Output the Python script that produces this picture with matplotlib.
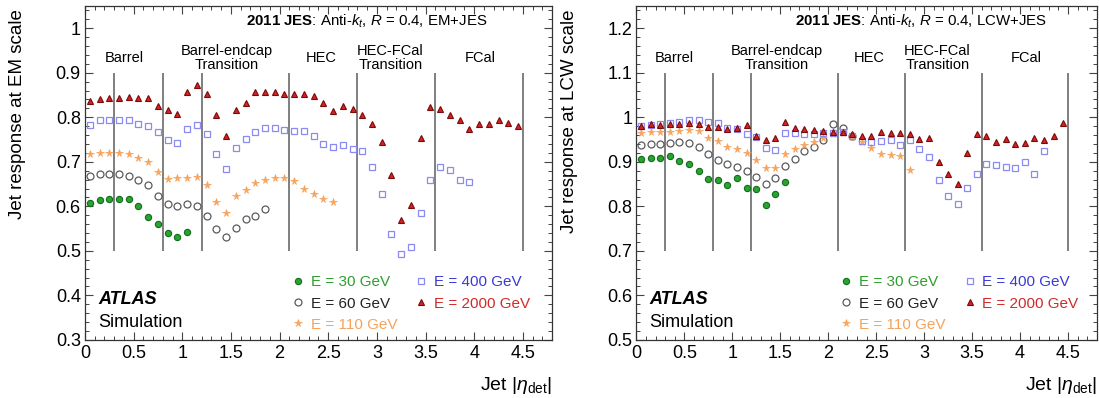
import matplotlib
matplotlib.use("Agg")
import matplotlib.pyplot as plt
from matplotlib.ticker import MultipleLocator, FormatStrFormatter

plt.rcParams['font.family'] = ['Liberation Sans', 'DejaVu Sans']
plt.rcParams['mathtext.fontset'] = 'custom'
plt.rcParams['mathtext.rm'] = 'Liberation Sans'
plt.rcParams['mathtext.it'] = 'Liberation Sans:italic'
plt.rcParams['mathtext.bf'] = 'Liberation Sans:bold'

# |eta_det| bin centres (0.1 wide bins)
eta = [0.05, 0.15, 0.25, 0.35, 0.45, 0.55, 0.65, 0.75, 0.85, 0.95,
       1.05, 1.15, 1.25, 1.35, 1.45, 1.55, 1.65, 1.75, 1.85, 1.95,
       2.05, 2.15, 2.25, 2.35, 2.45, 2.55, 2.65, 2.75, 2.85, 2.95,
       3.05, 3.15, 3.25, 3.35, 3.45, 3.55, 3.65, 3.75, 3.85, 3.95,
       4.05, 4.15, 4.25, 4.35, 4.45]

# EM scale response
em_30 = [0.608, 0.614, 0.617, 0.617, 0.617, 0.600, 0.576, 0.561, 0.540, 0.531,
         0.542]
em_60 = [0.668, 0.672, 0.672, 0.672, 0.669, 0.660, 0.647, 0.624, 0.606, 0.600,
         0.606, 0.600, 0.578, 0.548, 0.530, 0.552, 0.572, 0.578, 0.594]
em_110 = [0.717, 0.720, 0.719, 0.719, 0.717, 0.709, 0.699, 0.677, 0.662, 0.664,
          0.664, 0.666, 0.647, 0.609, 0.585, 0.623, 0.636, 0.653, 0.659, 0.664,
          0.664, 0.657, 0.639, 0.627, 0.617, 0.609]
em_400 = [0.783, 0.793, 0.795, 0.795, 0.793, 0.786, 0.780, 0.767, 0.750, 0.743,
          0.773, 0.782, 0.762, 0.717, 0.684, 0.730, 0.752, 0.767, 0.775, 0.775,
          0.771, 0.769, 0.769, 0.759, 0.739, 0.734, 0.738, 0.729, 0.724, 0.689,
          0.627, 0.538, 0.493, 0.508, 0.585, 0.658, 0.688, 0.681, 0.660, 0.654]
em_2000 = [0.837, 0.842, 0.844, 0.844, 0.846, 0.844, 0.844, 0.825, 0.816, 0.808,
           0.857, 0.872, 0.852, 0.805, 0.759, 0.816, 0.832, 0.856, 0.856, 0.856,
           0.852, 0.852, 0.852, 0.847, 0.833, 0.814, 0.825, 0.818, 0.805, 0.784,
           0.744, 0.670, 0.570, 0.604, 0.754, 0.823, 0.818, 0.805, 0.795, 0.773,
           0.784, 0.784, 0.795, 0.788, 0.780]

# LCW scale response
lcw_30 = [0.907, 0.909, 0.909, 0.913, 0.902, 0.894, 0.879, 0.862, 0.859, 0.849,
          0.864, 0.842, 0.839, 0.802, 0.828, 0.854]
lcw_60 = [0.937, 0.939, 0.941, 0.943, 0.944, 0.943, 0.934, 0.917, 0.905, 0.894,
          0.889, 0.879, 0.866, 0.851, 0.864, 0.890, 0.907, 0.924, 0.934, 0.950,
          0.985, 0.975, 0.958]
lcw_110 = [0.965, 0.967, 0.967, 0.968, 0.969, 0.971, 0.969, 0.954, 0.947, 0.934,
           0.928, 0.919, 0.905, 0.887, 0.887, 0.917, 0.929, 0.937, 0.944, 0.954,
           0.962, 0.965, 0.955, 0.945, 0.932, 0.917, 0.916, 0.914, 0.881]
lcw_400 = [0.980, 0.983, 0.986, 0.988, 0.990, 0.995, 0.995, 0.990, 0.988, 0.975,
           0.973, 0.962, 0.955, 0.930, 0.926, 0.965, 0.964, 0.962, 0.962, 0.964,
           0.965, 0.967, 0.957, 0.947, 0.944, 0.947, 0.949, 0.937, 0.949, 0.928,
           0.911, 0.859, 0.823, 0.806, 0.842, 0.873, 0.894, 0.892, 0.889, 0.887,
           0.899, 0.872, 0.924]
lcw_2000 = [0.980, 0.984, 0.982, 0.984, 0.984, 0.988, 0.986, 0.979, 0.978, 0.973,
            0.977, 0.982, 0.957, 0.948, 0.954, 0.989, 0.975, 0.973, 0.971, 0.969,
            0.967, 0.966, 0.962, 0.957, 0.957, 0.967, 0.965, 0.964, 0.962, 0.952,
            0.954, 0.899, 0.872, 0.851, 0.920, 0.962, 0.959, 0.944, 0.952, 0.941,
            0.943, 0.954, 0.950, 0.957, 0.988]

labels = ["E = 30 GeV", "E = 60 GeV", "E = 110 GeV", "E = 400 GeV", "E = 2000 GeV"]
text_colors = ["#2ca02c", "#222222", "#f5a35c", "#3a3ad6", "#d12a2a"]
styles = [
    dict(marker='o', ms=4.5, mfc='#27a52f', mec='#126b1a', mew=0.8),
    dict(marker='o', ms=5.0, mfc='none', mec='#5a5a5a', mew=0.9),
    dict(marker='*', ms=5.5, mfc='#f7a25a', mec='#f7a25a', mew=0.5),
    dict(marker='s', ms=4.5, mfc='none', mec='#8a8af0', mew=0.9),
    dict(marker='^', ms=5.0, mfc='#d42222', mec='#7a0a0a', mew=0.8),
]

boundaries = [0.3, 0.8, 1.2, 2.1, 2.8, 3.6, 4.5]
regions = ["Barrel", "Barrel-endcap\nTransition", "HEC", "HEC-FCal\nTransition", "FCal"]
region_x = [0.40, 1.46, 2.43, 3.14, 4.06]

panels = [
    dict(series=[em_30, em_60, em_110, em_400, em_2000], ylim=(0.3, 1.05),
         lines=(0.5, 0.9), ylabel="Jet response at EM scale", tag="EM+JES",
         rect=[0.0773, 0.146, 0.425, 0.839], hdr_x=0.862),
    dict(series=[lcw_30, lcw_60, lcw_110, lcw_400, lcw_2000], ylim=(0.5, 1.25),
         lines=(0.7, 1.1), ylabel="Jet response at LCW scale", tag="LCW+JES",
         rect=[0.579, 0.146, 0.419, 0.839], hdr_x=0.892),
]

fig = plt.figure(figsize=(10.99, 3.98), dpi=100)

for p in panels:
    ax = fig.add_axes(p['rect'])
    ax.set_xlim(0, 4.8)
    ax.set_ylim(*p['ylim'])

    # detector region boundaries
    ax.vlines(boundaries, p['lines'][0], p['lines'][1], color='#7f7f7f', lw=1.4, zorder=1)
    for x, name in zip(region_x, regions):
        ax.text(x, 0.845, name, transform=ax.get_xaxis_transform(), ha='center',
                va='center', fontsize=10.5, linespacing=1.0)

    handles = []
    for vals, st, lab in zip(p['series'], styles, labels):
        h, = ax.plot(eta[:len(vals)], vals, ls='none', label=lab, zorder=3, **st)
        handles.append(h)

    leg = ax.legend(handles=handles, ncol=2, loc='upper left',
                    bbox_to_anchor=(0.443, 0.193), frameon=False, fontsize=11,
                    borderpad=0, borderaxespad=0, handlelength=0.8,
                    handletextpad=0.42, columnspacing=1.2, labelspacing=0.47)
    for t, c in zip(leg.get_texts(), text_colors):
        t.set_color(c)

    ax.text(p['hdr_x'], 0.955,
            r"$\mathbf{2011\ JES}$: Anti-$k_{t}$, $R$ = 0.4, " + p['tag'],
            transform=ax.transAxes, ha='right', va='center', fontsize=10.8)
    ax.text(0.028, 0.12, "ATLAS", transform=ax.transAxes, fontsize=13,
            fontweight='bold', fontstyle='italic', va='center')
    ax.text(0.028, 0.052, "Simulation", transform=ax.transAxes, fontsize=13,
            va='center')

    ax.set_ylabel(p['ylabel'], fontsize=13.5, loc='top')
    ax.yaxis.set_label_coords(-0.127, 0.99)
    ax.set_xlabel(r"Jet $|\eta_{\rm det}|$", fontsize=14, loc='right')
    ax.xaxis.set_label_coords(1.0, -0.105)

    ax.xaxis.set_major_locator(MultipleLocator(0.5))
    ax.xaxis.set_minor_locator(MultipleLocator(0.1))
    ax.yaxis.set_major_locator(MultipleLocator(0.1))
    ax.yaxis.set_minor_locator(MultipleLocator(0.02))
    ax.xaxis.set_major_formatter(FormatStrFormatter('%g'))
    ax.yaxis.set_major_formatter(FormatStrFormatter('%g'))
    ax.tick_params(which='both', direction='in', top=True, right=True,
                   color='#444444', labelsize=13)
    ax.tick_params(which='major', length=6, width=0.8)
    ax.tick_params(which='minor', length=3, width=0.7)
    ax.tick_params(axis='x', pad=4)
    ax.tick_params(axis='y', pad=3)
    for s in ax.spines.values():
        s.set_linewidth(0.9)
        s.set_color('#333333')

fig.savefig("out.png", dpi=100)
